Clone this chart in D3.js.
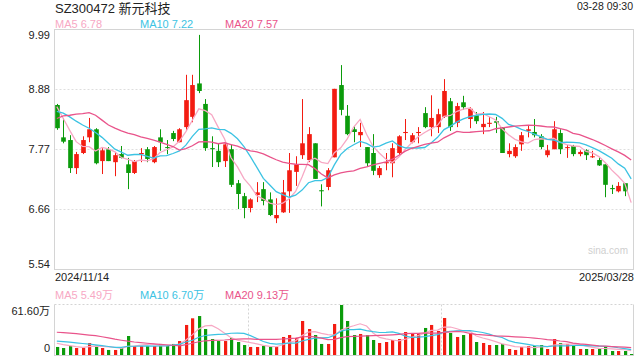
<!DOCTYPE html>
<html lang="zh">
<head>
<meta charset="utf-8">
<title>SZ300472 新元科技</title>
<script src="https://cdn.jsdelivr.net/npm/d3@7"></script>
<style>
    body { margin: 0; background: #fff; }
    svg text { font-family: "Liberation Sans", Arial, "Noto Sans CJK SC", sans-serif; }
</style>
</head>
<body>
<script>
var title = "SZ300472 新元科技";
var stamp = "03-28 09:30";
var firstDate = "2024/11/14";
var lastDate = "2025/03/28";

// daily candles, 2024/11/14 .. 2025/03/27 (the 03-28 session has only a volume bar)
var open = [8.59,7.99,7.94,7.42,7.70,7.99,8.14,7.55,7.77,7.53, 7.68,7.49,7.33,7.68,7.77,7.53,7.99,7.81,8.07,7.90,
            8.18,8.37,8.99,8.61,7.79,7.74,7.55,7.77,7.14,6.90, 6.68,6.92,7.03,6.84,6.49,6.60,6.99,7.35,7.66,7.57,
            7.88,7.01,7.07,7.62,8.96,8.39,8.14,8.03,7.81,7.70, 7.29,7.51,7.51,7.70,8.07,7.90,8.07,8.44,8.18,8.18,
            8.37,8.66,8.26,8.64,8.33,8.40,8.18,8.24,8.29,8.18, 7.68,7.64,7.86,8.11,8.09,8.01,7.66,7.77,8.07,7.79,
            7.83,7.68,7.75,7.62,7.57,7.49,7.05,6.99,7.14];
var high = [8.61,8.35,8.03,7.72,8.01,8.35,8.16,7.79,7.81,7.72, 7.83,7.61,7.57,7.79,7.81,7.83,8.14,7.94,8.11,8.16,
            9.15,9.15,9.89,8.70,8.01,7.88,7.92,7.85,7.20,6.96, 6.86,7.16,7.16,6.97,6.86,7.20,7.70,7.64,8.70,8.18,
            7.88,7.12,7.42,8.89,9.33,8.59,8.20,8.26,7.81,8.05, 7.46,7.70,7.88,8.03,8.33,8.07,8.18,8.55,8.77,8.52,
            9.07,8.72,8.63,8.76,8.55,8.46,8.46,8.37,8.37,8.18, 7.88,7.86,8.09,8.22,8.33,8.05,7.85,8.29,8.14,7.85,
            7.85,7.75,7.77,7.74,7.62,7.49,7.11,7.16,7.14];
var low = [8.13,7.88,7.33,7.31,7.68,7.90,7.49,7.31,7.55,7.27, 7.60,7.03,7.31,7.53,7.53,7.51,7.74,7.68,7.92,7.90,
           8.13,8.27,8.81,7.74,7.44,7.44,7.44,7.07,6.66,6.49, 6.60,6.79,6.73,6.53,6.40,6.59,6.59,7.09,7.59,7.53,
           7.22,6.71,7.01,7.62,8.40,8.03,7.90,7.81,7.44,7.29, 7.24,7.38,7.25,7.66,7.94,7.88,7.88,8.16,8.01,8.07,
           8.35,8.11,8.18,8.50,8.16,8.24,8.05,8.18,8.07,7.70, 7.62,7.61,7.74,7.99,7.99,7.77,7.62,7.77,7.68,7.61,
           7.64,7.64,7.57,7.61,7.46,6.88,6.94,6.97,6.90];
var close = [8.16,7.91,7.42,7.68,7.94,8.14,7.51,7.75,7.55,7.66, 7.61,7.33,7.55,7.70,7.59,7.81,7.90,7.80,7.96,8.14,
             8.68,8.96,8.85,7.79,7.77,7.53,7.86,7.11,6.94,6.68, 6.84,6.97,6.81,6.55,6.55,6.97,7.38,7.49,7.88,8.05,
             7.22,6.99,7.38,8.89,8.50,8.05,8.09,8.09,7.51,7.37, 7.42,7.53,7.79,8.01,8.09,8.03,8.09,8.18,8.35,8.42,
             8.85,8.18,8.57,8.55,8.52,8.29,8.24,8.26,8.26,7.70, 7.74,7.81,8.03,8.14,8.03,7.81,7.75,8.14,7.77,7.81,
             7.68,7.72,7.66,7.64,7.47,7.11,7.03,7.09,6.99];
// volume in 万 shares, 90 sessions
var volume = [9.9,8.6,11.1,8.6,9.0,14.8,11.5,8.6,6.2,6.2, 8.6,23.4,11.1,11.1,11.1,11.1,13.6,11.1,13.6,17.2,
              37.0,45.2,48.0,32.0,19.7,17.2,17.2,20.9,16.0,12.3, 9.9,9.9,11.1,9.9,9.9,22.2,24.6,20.9,41.9,32.0,
              24.6,13.6,13.6,38.2,61.6,41.9,24.6,25.9,24.6,18.5, 14.8,16.0,18.5,19.7,28.3,26.7,26.7,33.3,37.0,29.6,
              45.6,27.1,22.2,24.6,27.1,16.0,14.8,12.3,12.3,13.6, 7.4,6.2,9.9,11.1,11.1,12.3,7.4,19.7,14.8,13.6,
              11.1,7.4,7.4,7.4,7.4,10.3,4.9,4.9,4.9,1.2];

// moving-average values at the left edge come from sessions before the window
var ma5Head = [8.56,8.34,8.12,7.91];
var ma10Head = [8.47,8.44,8.37,8.29,8.22,8.16,8.08,7.99,7.88];
var ma20Head = [8.34,8.39,8.40,8.42,8.43,8.45,8.40,8.31,8.22,8.16,8.11,8.07,8.04,8.00,7.97,7.94,7.90,7.86,7.82];
var priceMaLast = [6.78, 7.22, 7.57];
var vma5Head = [14.5,12.8,11.5,10.3];
var vma10Head = [17.2,16.5,15.8,15.0,14.2,13.4,12.5,11.5,10.5];
var vma20Head = [28.0,27.5,27.0,26.4,25.5,24.6,23.8,22.5,21.0,19.5,18.2,17.0,16.0,15.2,14.5,13.8,13.2,12.6,12.0];
var volMaLast = [5.49, 6.70, 9.13];

var priceTicks = [5.54, 6.66, 7.77, 8.88, 9.99];
var volMax = 61.6;
var volTickLabels = ["0", "61.60万"];

var w = 640, h = 360;
var left = 54.5, right = 633.5;
var pTop = 29.5, pBottom = 269.5;
var vTop = 304.5, vBottom = 355;
var upColor = "#f31c12", downColor = "#0b9b0b";
var maColors = ["#f7a8c4", "#3cc3e3", "#e9548b"];
var days = volume.length;

function movingAverage(values, n, head) {
    return values.map(function (v, i) {
        if (i < head.length) return head[i];
        return d3.mean(values.slice(i - n + 1, i + 1));
    });
}

var ma5 = movingAverage(close, 5, ma5Head).concat([priceMaLast[0]]);
var ma10 = movingAverage(close, 10, ma10Head).concat([priceMaLast[1]]);
var ma20 = movingAverage(close, 20, ma20Head).concat([priceMaLast[2]]);
var vma5 = movingAverage(volume, 5, vma5Head);
var vma10 = movingAverage(volume, 10, vma10Head);
var vma20 = movingAverage(volume, 20, vma20Head);

var x = d3.scaleBand().domain(d3.range(days)).range([left, right]).paddingInner(0.28);
var y = d3.scaleLinear().domain([5.54, 9.99]).range([pBottom, pTop]);
var yv = d3.scaleLinear().domain([0, volMax]).range([vBottom, vTop + 0.5]);
var cx = function (i) { return x(i) + x.bandwidth() / 2; };

var svg = d3.select("body").append("svg").attr("width", w).attr("height", h);

// header
svg.append("text").attr("x", 55).attr("y", 13).attr("font-size", 13).attr("fill", "#222").text(title);
svg.append("text").attr("x", 633).attr("y", 10).attr("text-anchor", "end").attr("font-size", 10.5).attr("fill", "#222").text(stamp);

var legendX = [55, 140, 225];
var maNames = ["MA5", "MA10", "MA20"];
svg.append("g").selectAll("text").data(priceMaLast).enter().append("text")
   .attr("x", function (d, i) { return legendX[i]; }).attr("y", 28)
   .attr("font-size", 11).attr("fill", function (d, i) { return maColors[i]; })
   .text(function (d, i) { return maNames[i] + " " + d.toFixed(2); });

// price panel frame + grid
svg.append("rect").attr("x", left).attr("y", pTop).attr("width", right - left).attr("height", pBottom - pTop)
   .attr("fill", "none").attr("stroke", "#d4d4d4");
svg.append("g").selectAll("line").data(priceTicks.slice(1, -1)).enter().append("line")
   .attr("x1", left + 1).attr("x2", right - 1)
   .attr("y1", function (d) { return Math.round(y(d)) + 0.5; }).attr("y2", function (d) { return Math.round(y(d)) + 0.5; })
   .attr("stroke", "#dedede").attr("stroke-dasharray", "2,2");

var yaxis = svg.append("g").attr("transform", "translate(" + left + ",0)")
   .call(d3.axisLeft(y).tickValues(priceTicks).tickFormat(d3.format(".2f")).tickSize(0).tickPadding(4.5));
yaxis.select(".domain").remove();
yaxis.selectAll("text").attr("font-size", 11).attr("fill", "#222")
   .attr("dy", function (d, i) { return i === priceTicks.length - 1 ? "0.85em" : (i === 0 ? "-0.15em" : "0.32em"); });

svg.append("text").attr("x", 628).attr("y", 254).attr("text-anchor", "end")
   .attr("font-size", 10).attr("fill", "#cfcfcf").text("sina.com");

// candles
var candles = svg.append("g").selectAll("g").data(close).enter().append("g");
candles.append("line")
   .attr("x1", function (d, i) { return Math.round(cx(i)) + 0.5; }).attr("x2", function (d, i) { return Math.round(cx(i)) + 0.5; })
   .attr("y1", function (d, i) { return y(high[i]); }).attr("y2", function (d, i) { return y(low[i]); })
   .attr("stroke", function (d, i) { return d >= open[i] ? upColor : downColor; });
candles.append("rect")
   .attr("x", function (d, i) { return Math.round(cx(i)) + 0.5 - x.bandwidth() / 2; })
   .attr("width", x.bandwidth())
   .attr("y", function (d, i) { return y(Math.max(d, open[i])); })
   .attr("height", function (d, i) { return Math.max(1, Math.abs(y(d) - y(open[i]))); })
   .attr("fill", function (d, i) { return d >= open[i] ? upColor : downColor; });

// price moving averages
var line = d3.line().x(function (d, i) { return cx(i); }).y(function (d) { return y(d); });
[ma5, ma10, ma20].forEach(function (s, k) {
    svg.append("path").datum(s).attr("d", line).attr("fill", "none")
       .attr("stroke", maColors[k]).attr("stroke-width", 1.3);
});

// axis dates
svg.append("text").attr("x", 55).attr("y", 281).attr("font-size", 11).attr("fill", "#222").text(firstDate);
svg.append("text").attr("x", 634).attr("y", 281).attr("text-anchor", "end").attr("font-size", 11).attr("fill", "#222").text(lastDate);

// volume legend
svg.append("g").selectAll("text").data(volMaLast).enter().append("text")
   .attr("x", function (d, i) { return legendX[i]; }).attr("y", 299)
   .attr("font-size", 11).attr("fill", function (d, i) { return maColors[i]; })
   .text(function (d, i) { return maNames[i] + " " + d.toFixed(2) + "万"; });

// volume panel frame
svg.append("line").attr("x1", left).attr("x2", right).attr("y1", vTop).attr("y2", vTop)
   .attr("stroke", "#d4d4d4").attr("stroke-dasharray", "2,2");
svg.append("line").attr("x1", left).attr("x2", right).attr("y1", vBottom + 0.5).attr("y2", vBottom + 0.5).attr("stroke", "#d4d4d4");
[left, right].forEach(function (xx) {
    svg.append("line").attr("x1", xx).attr("x2", xx).attr("y1", vTop).attr("y2", vBottom + 1).attr("stroke", "#d4d4d4");
});
[1, 2].forEach(function (k) {
    var xx = Math.round(left + (right - left) * k / 3) + 0.5;
    svg.append("line").attr("x1", xx).attr("x2", xx).attr("y1", vTop).attr("y2", vBottom)
       .attr("stroke", "#d4d4d4").attr("stroke-dasharray", "2,2");
});

var vaxis = svg.append("g").attr("transform", "translate(" + left + ",0)")
   .call(d3.axisLeft(yv).tickValues([0, volMax]).tickFormat(function (d, i) { return volTickLabels[i]; }).tickSize(0).tickPadding(4.5));
vaxis.select(".domain").remove();
vaxis.selectAll("text").attr("font-size", 11).attr("fill", "#222")
   .attr("dy", function (d, i) { return i === 1 ? "0.9em" : "-0.3em"; });

svg.append("g").selectAll("rect").data(volume).enter().append("rect")
   .attr("x", function (d, i) { return Math.round(cx(i)) - 1; })
   .attr("width", 3.2)
   .attr("y", function (d) { return yv(d); })
   .attr("height", function (d) { return vBottom - yv(d); })
   .attr("fill", function (d, i) { return i < close.length && close[i] >= open[i] ? upColor : downColor; });

var vline = d3.line().x(function (d, i) { return cx(i); }).y(function (d) { return yv(d); });
[vma5, vma10, vma20].forEach(function (s, k) {
    svg.append("path").datum(s).attr("d", vline).attr("fill", "none")
       .attr("stroke", maColors[k]).attr("stroke-width", 1.2);
});
</script>
</body>
</html>
